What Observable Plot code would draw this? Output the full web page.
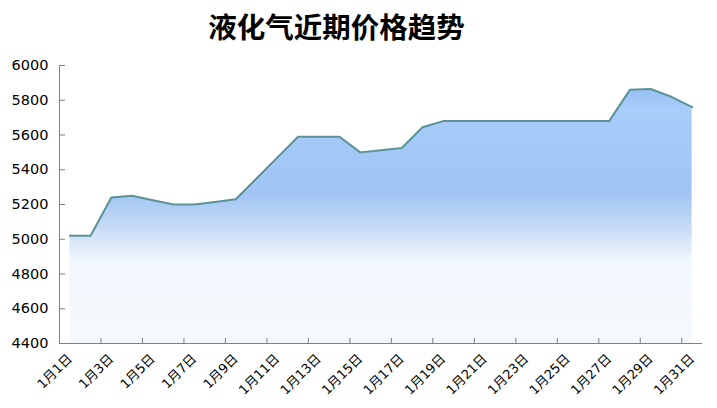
<!DOCTYPE html>
<html><head><meta charset="utf-8">
<script src="https://cdn.jsdelivr.net/npm/d3@7"></script>
<script src="https://cdn.jsdelivr.net/npm/@observablehq/plot@0.6"></script>
<style>
body{margin:0;background:#fff;}
#wrap{position:relative;width:717px;height:408px;}
#title{position:absolute;left:0;top:12px;width:673px;text-align:center;font-family:"Noto Sans CJK SC",sans-serif;font-weight:bold;font-size:28.5px;line-height:1;color:#000;}
#wrap svg{position:absolute;left:0;top:0;}
</style></head><body>
<div id="wrap"><div id="title">液化气近期价格趋势</div></div>
<script>
const categories = ["1月1日","1月2日","1月3日","1月4日","1月5日","1月6日","1月7日","1月8日","1月9日","1月10日",
  "1月11日","1月12日","1月13日","1月14日","1月15日","1月16日","1月17日","1月18日","1月19日","1月20日",
  "1月21日","1月22日","1月23日","1月24日","1月25日","1月26日","1月27日","1月28日","1月29日","1月30日","1月31日"];
const prices = [5020,5020,5240,5250,5225,5200,5200,5215,5230,5350,
  5470,5590,5590,5590,5500,5512,5525,5645,5680,5680,
  5680,5680,5680,5680,5680,5680,5680,5860,5865,5820,5760];
const yTicks = [4400,4600,4800,5000,5200,5400,5600,5800,6000];
const labelDays = d3.range(1, 32, 2);
const tickBounds = d3.range(2.5, 31, 2);

const data = categories.map((c, i) => ({day: i + 1, label: c, price: prices[i]}));

const chart = Plot.plot({
  width: 717, height: 408,
  marginLeft: 59, marginRight: 15, marginTop: 65, marginBottom: 65,
  style: {fontFamily: '"DejaVu Sans","Noto Sans CJK SC",sans-serif', fontSize: "14px", color: "#000", background: "transparent"},
  x: {type: "linear", domain: [0.5, 31.5]},
  y: {domain: [yTicks[0], yTicks[yTicks.length - 1]]},
  marks: [
    Plot.areaY(data, {x: "day", y1: () => yTicks[0], y2: "price", fill: "url(#areaGrad)"}),
    Plot.lineY(data, {x: "day", y: "price", stroke: "#5b9399", strokeWidth: 2}),
    Plot.ruleX([0.5], {stroke: "#808080"}),
    Plot.ruleY([yTicks[0]], {stroke: "#808080"}),
    Plot.axisY({ticks: yTicks, tickSize: 0, tickPadding: 11, tickFormat: d => String(d), fontSize: 14.5, label: null}),
    Plot.axisY({ticks: yTicks, tickSize: 6, text: null, dx: 6, stroke: "#808080", label: null}),
    Plot.axisX({ticks: tickBounds, tickSize: 5, text: null, dy: -5, stroke: "#808080", label: null}),
    Plot.axisX({ticks: labelDays, tickSize: 0, tickPadding: 13, tickRotate: -45, tickFormat: d => categories[d - 1], fontSize: 13, label: null})
  ]
});

const ns = "http://www.w3.org/2000/svg";
const defs = document.createElementNS(ns, "defs");
defs.innerHTML = `<linearGradient id="areaGrad" x1="0" y1="0" x2="0" y2="1">
  <stop offset="0" stop-color="#98bff6"/>
  <stop offset="0.08" stop-color="#a8cdf9"/>
  <stop offset="0.41" stop-color="#a0c4f4"/>
  <stop offset="0.55" stop-color="#c8dcf6"/>
  <stop offset="0.68" stop-color="#f2f7fd"/>
  <stop offset="1" stop-color="#f5f9fd"/>
</linearGradient>`;
chart.prepend(defs);
document.getElementById("wrap").prepend(chart);
</script>
</body></html>
